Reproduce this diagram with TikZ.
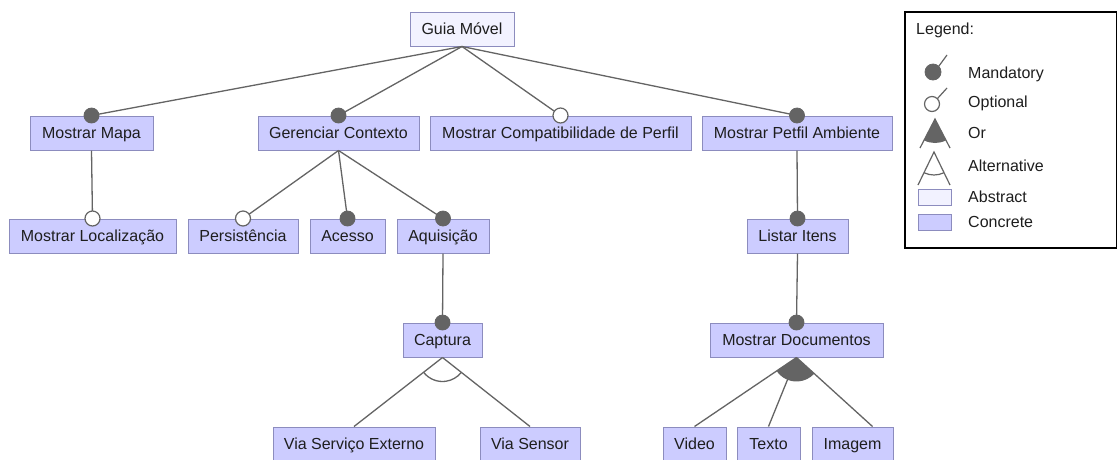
\documentclass[tikz,border=0pt]{standalone}
\usepackage{fontspec}
\setmainfont{Liberation Sans}
\usetikzlibrary{calc}
\definecolor{concfill}{RGB}{204,204,255}
\definecolor{absfill}{RGB}{242,242,255}
\definecolor{boxline}{RGB}{140,140,190}
\definecolor{linkgray}{RGB}{100,100,100}
\definecolor{txt}{RGB}{30,30,30}
\begin{document}
\begin{tikzpicture}[x=1pt,y=-1pt,
  feat/.style={draw=boxline, line width=1pt, minimum height=34pt, inner sep=0pt, text height=11.5pt, text depth=0pt, text=txt, font=\fontsize{16}{19}\selectfont},
  conc/.style={feat, fill=concfill},
  abst/.style={feat, fill=absfill},
  link/.style={draw=linkgray, line width=1.3pt},
  mand/.style={fill=linkgray, draw=linkgray, line width=0.8pt},
  opt/.style={fill=white, draw=linkgray, line width=1.2pt},
  legtext/.style={anchor=west, inner sep=0pt, text height=11.5pt, text depth=0pt, text=txt, font=\fontsize{16}{19}\selectfont},
  legsym/.style={draw=linkgray, line width=1.2pt}
  ]
\useasboundingbox (0,0) rectangle (1118,459);
\fill[white] (0,0) rectangle (1118,459);

% nodes
\node[abst, minimum width=104pt] (guia) at (462,29) {Guia Móvel};
\node[conc, minimum width=123pt] (mapa) at (91.5,133) {Mostrar Mapa};
\node[conc, minimum width=161pt] (ger) at (338.5,133) {Gerenciar Contexto};
\node[conc, minimum width=261pt] (compat) at (560.5,133) {Mostrar Compatibilidade de Perfil};
\node[conc, minimum width=190pt] (petfil) at (797,133) {Mostrar Petfil Ambiente};
\node[conc, minimum width=167pt] (loc) at (92.5,236) {Mostrar Localização};
\node[conc, minimum width=110pt] (pers) at (243,236) {Persistência};
\node[conc, minimum width=75pt] (acesso) at (347.5,236) {Acesso};
\node[conc, minimum width=92pt] (aqui) at (443,236) {Aquisição};
\node[conc, minimum width=101pt] (listar) at (797.5,236) {Listar Itens};
\node[conc, minimum width=79pt] (captura) at (442.5,340) {Captura};
\node[conc, minimum width=173pt] (mdoc) at (796.5,340) {Mostrar Documentos};
\node[conc, minimum width=162pt] (vse) at (354,444) {Via Serviço Externo};
\node[conc, minimum width=100pt] (vsens) at (530,444) {Via Sensor};
\node[conc, minimum width=63pt] (video) at (694.5,444) {Video};
\node[conc, minimum width=63pt] (texto) at (768.5,444) {Texto};
\node[conc, minimum width=81pt] (imagem) at (852.5,444) {Imagem};
\coordinate (imgend) at ([xshift=20pt]imagem.north);

% connectors
\draw[link] (guia.south) -- (mapa.north);
\draw[link] (guia.south) -- (ger.north);
\draw[link] (guia.south) -- (compat.north);
\draw[link] (guia.south) -- (petfil.north);
\draw[link] (mapa.south) -- (loc.north);
\draw[link] (ger.south) -- (pers.north);
\draw[link] (ger.south) -- (acesso.north);
\draw[link] (ger.south) -- (aqui.north);
\draw[link] (aqui.south) -- (captura.north);
\draw[link] (petfil.south) -- (listar.north);
\draw[link] (listar.south) -- (mdoc.north);
\draw[link] (captura.south) -- (vse.north);
\draw[link] (captura.south) -- (vsens.north);
\draw[link] (mdoc.south) -- (video.north);
\draw[link] (mdoc.south) -- (texto.north);
\draw[link] (mdoc.south) -- (imgend);

% alternative arc
\draw[link] let \p1=($(vse.north)-(captura.south)$), \p2=($(vsens.north)-(captura.south)$),
  \n1={atan2(\y1,\x1)}, \n2={atan2(\y2,\x2)} in
  ($(captura.south)+(\n1:24pt)$) arc[start angle=\n1, end angle=\n2, radius=24pt];
% or sector
\fill[linkgray] let \p1=($(video.north)-(mdoc.south)$), \p2=($(imgend)-(mdoc.south)$),
  \n1={atan2(\y1,\x1)}, \n2={atan2(\y2,\x2)} in
  (mdoc.south) -- ($(mdoc.south)+(\n1:24pt)$) arc[start angle=\n1, end angle=\n2, radius=24pt] -- cycle;

% decorations
\path[mand] (mapa.north) circle[radius=7.5pt];
\path[mand] (ger.north) circle[radius=7.5pt];
\path[opt] (compat.north) circle[radius=7.5pt];
\path[mand] (petfil.north) circle[radius=7.5pt];
\path[opt] (loc.north) circle[radius=7.5pt];
\path[opt] (pers.north) circle[radius=7.5pt];
\path[mand] (acesso.north) circle[radius=7.5pt];
\path[mand] (aqui.north) circle[radius=7.5pt];
\path[mand] (captura.north) circle[radius=7.5pt];
\path[mand] (listar.north) circle[radius=7.5pt];
\path[mand] (mdoc.north) circle[radius=7.5pt];

% legend
\draw[black, line width=1.6pt] (905,12) rectangle (1116.5,248);
\node[legtext] (legtitle) at (916,29) {Legend:};
\node[legtext] (lmand) at (968,73) {Mandatory};
\node[legtext] (lopt) at (968,102) {Optional};
\node[legtext] (lor) at (968,133) {Or};
\node[legtext] (lalt) at (968,166) {Alternative};
\node[legtext] (labs) at (968,197) {Abstract};
\node[legtext] (lconc) at (968,222) {Concrete};
% legend symbols
\draw[legsym] (938.7,66.3) -- (947,55);
\path[mand] (933,72) circle[radius=8pt];
\draw[legsym] (937.3,98.7) -- (947,88);
\path[opt] (932,104) circle[radius=7.5pt];
\fill[linkgray] (935,119) -- ++(-117.3:24pt) arc[start angle=-117.3, end angle=-62.7, radius=24pt] -- cycle;
\draw[legsym] (920,148) -- (935,119) -- (950,148);
\draw[legsym] (918,185) -- (934,152) -- (950,185);
\draw[legsym] ($(934,152)+(-115.9:23pt)$) arc[start angle=-115.9, end angle=-64.1, radius=23pt];
\draw[boxline, fill=absfill, line width=1pt] (918,189) rectangle (951,205);
\draw[boxline, fill=concfill, line width=1pt] (918,214) rectangle (951,230);
\end{tikzpicture}
\end{document}
